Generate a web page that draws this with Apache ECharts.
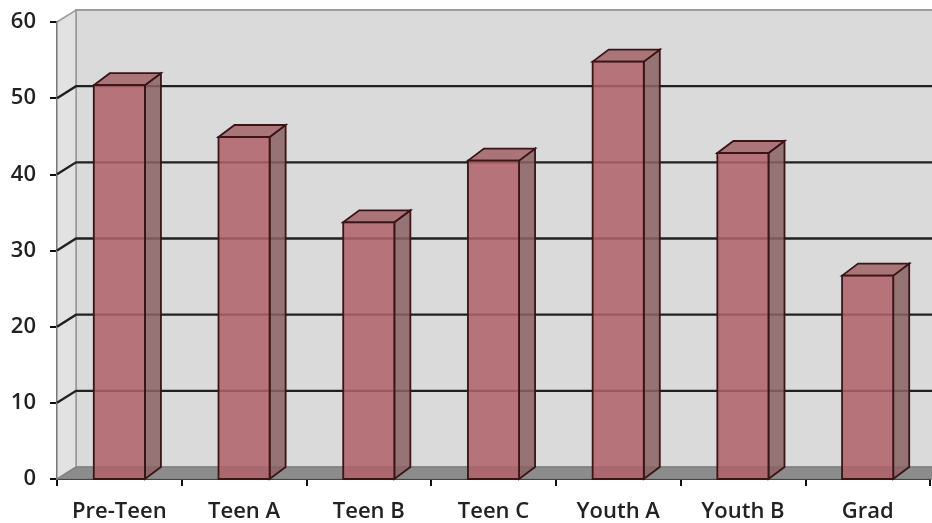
<!DOCTYPE html>
<html>
<head>
<meta charset="utf-8">
<script src="https://cdn.jsdelivr.net/npm/echarts@6/dist/echarts.min.js"></script>
<style>
  html, body { margin: 0; padding: 0; background: #ffffff; }
  #chart { width: 932px; height: 523px; }
</style>
</head>
<body>
<div id="chart"></div>
<script>
// Group names along the bottom axis
var categories = ['Pre-Teen', 'Teen A', 'Teen B', 'Teen C', 'Youth A', 'Youth B', 'Grad'];
// Value for each group
var values = [51.7, 44.9, 33.7, 41.8, 54.8, 42.8, 26.7];
// Value axis range and step
var yMin = 0, yMax = 60, yStep = 10;

// Depth offsets (pixels) for the pseudo-3D look
var WALL_DX = 19, WALL_DY = -12;
var BAR_DX = 16, BAR_DY = -12;
var BAR_FRAC = 0.41;

var FONT = '"Open Sans", "DejaVu Sans", sans-serif';

var chart = echarts.init(document.getElementById('chart'), null, { renderer: 'canvas' });

// Back wall, side wall, floor and gridlines behind the columns
function renderFrame(params, api) {
  var cs = params.coordSys;
  var x0 = cs.x, x1 = cs.x + cs.width + 40;
  var yTop = api.coord([0, yMax])[1];
  var yBot = api.coord([0, yMin])[1];
  var bx = x0 + WALL_DX;
  var children = [];
  // back wall
  children.push({
    type: 'polygon',
    shape: { points: [[bx, yTop + WALL_DY], [x1, yTop + WALL_DY], [x1, yBot + WALL_DY], [bx, yBot + WALL_DY]] },
    style: { fill: '#dadada', stroke: '#9c9c9c', lineWidth: 2 }
  });
  // side wall
  children.push({
    type: 'polygon',
    shape: { points: [[x0, yTop], [bx, yTop + WALL_DY], [bx, yBot + WALL_DY], [x0, yBot]] },
    style: { fill: '#e2e2e2', stroke: '#9a9a9a', lineWidth: 1.5 }
  });
  // gridlines: diagonal on the side wall, horizontal on the back wall
  for (var v = yMin + yStep; v <= yMax - yStep; v += yStep) {
    var y = api.coord([0, v])[1];
    children.push({
      type: 'polyline',
      shape: { points: [[x0, y], [bx, y + WALL_DY], [x1, y + WALL_DY]] },
      style: { stroke: '#202020', lineWidth: 2.4, fill: null }
    });
  }
  // floor
  children.push({
    type: 'polygon',
    shape: { points: [[x0, yBot], [bx, yBot + WALL_DY], [x1 + WALL_DX, yBot + WALL_DY], [x1, yBot]] },
    style: { fill: '#8c8c8c', stroke: '#7a7a7a', lineWidth: 1 }
  });
  return { type: 'group', children: children };
}

// One pseudo-3D column: front, side and top faces
function renderBar(params, api) {
  var idx = api.value(0);
  var val = api.value(1);
  var top = api.coord([idx, val]);
  var base = api.coord([idx, 0]);
  var bw = api.size([1, 0])[0] * BAR_FRAC;
  var xl = top[0] - bw / 2, xr = top[0] + bw / 2;
  var yt = top[1], yb = base[1];
  var edge = '#3a1416';
  return {
    type: 'group',
    children: [
      {
        type: 'polygon',
        shape: { points: [[xr, yt], [xr + BAR_DX, yt + BAR_DY], [xr + BAR_DX, yb + BAR_DY], [xr, yb]] },
        style: { fill: 'rgba(138,98,100,0.86)', stroke: edge, lineWidth: 1.8 }
      },
      {
        type: 'polygon',
        shape: { points: [[xl, yt], [xl + BAR_DX, yt + BAR_DY], [xr + BAR_DX, yt + BAR_DY], [xr, yt]] },
        style: { fill: 'rgba(166,108,112,0.92)', stroke: edge, lineWidth: 1.8 }
      },
      {
        type: 'rect',
        shape: { x: xl, y: yt, width: bw, height: yb - yt },
        style: { fill: 'rgba(176,98,106,0.86)', stroke: edge, lineWidth: 1.8 }
      }
    ]
  };
}

var barData = values.map(function (v, i) { return [i, v]; });

chart.setOption({
  animation: false,
  backgroundColor: '#ffffff',
  grid: { left: 57, right: 2, top: 22, bottom: 43 },
  xAxis: {
    type: 'category', data: categories,
    axisLine: { lineStyle: { color: '#111', width: 2 } },
    axisTick: { show: true, length: 7, lineStyle: { color: '#111', width: 2 } },
    axisLabel: { color: '#222', fontSize: 22, fontWeight: 600, fontFamily: FONT, margin: 22 }
  },
  yAxis: {
    type: 'value', min: yMin, max: yMax, interval: yStep,
    axisLine: { show: true, lineStyle: { color: '#111', width: 2 } },
    axisTick: { show: true, length: 7, lineStyle: { color: '#111', width: 2 } },
    axisLabel: { color: '#222', fontSize: 22, fontWeight: 600, fontFamily: FONT, margin: 21 },
    splitLine: { show: false }
  },
  series: [
    {
      type: 'custom', z: 1,
      renderItem: renderFrame, data: [[0, 0]], silent: true
    },
    {
      type: 'custom', z: 3,
      renderItem: renderBar, data: barData,
      encode: { x: 0, y: 1 }
    }
  ]
});
</script>
</body>
</html>
